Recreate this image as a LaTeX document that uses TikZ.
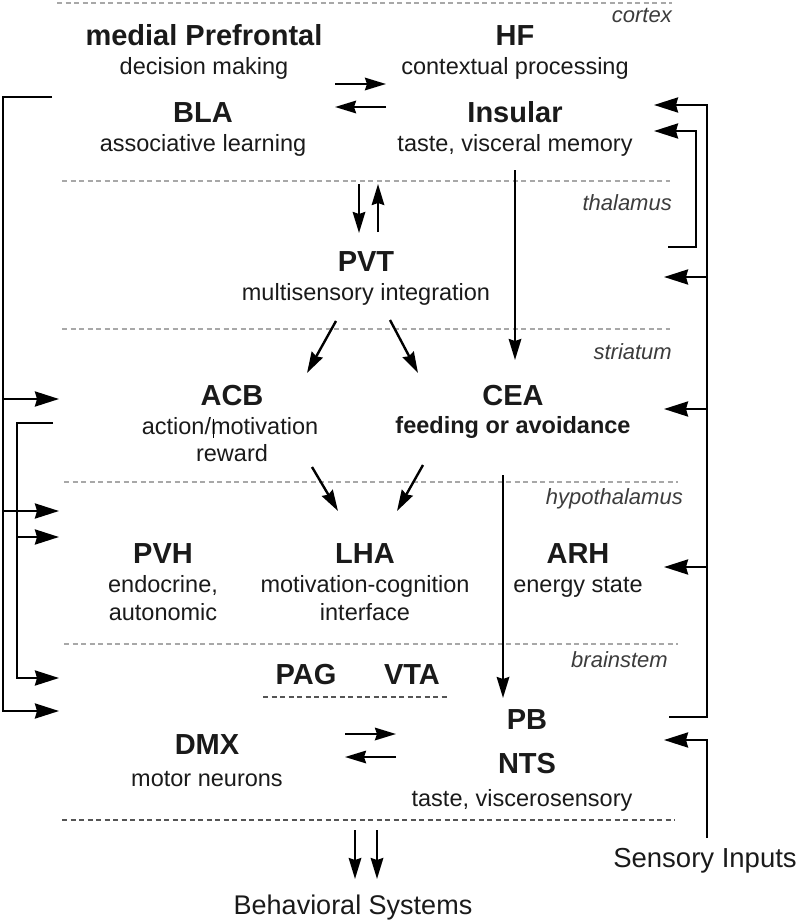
\documentclass[tikz,border=0pt]{standalone}
\usepackage{fontspec}
\setmainfont{Liberation Sans}
\usetikzlibrary{arrows.meta}
\definecolor{txt}{HTML}{1A1A1A}
\definecolor{lgray}{HTML}{A8A8A8}
\definecolor{dgray}{HTML}{555555}
\tikzset{
  ttl/.style={font=\fontsize{29}{34}\selectfont\bfseries, text=txt, anchor=base, inner sep=0pt},
  sub/.style={font=\fontsize{23.5}{28}\selectfont, text=txt, anchor=base, inner sep=0pt},
  subb/.style={font=\fontsize{23.5}{28}\selectfont\bfseries, text=txt, anchor=base, inner sep=0pt},
  layer/.style={font=\fontsize{22}{26}\selectfont\itshape, text=txt!85, anchor=base east, inner sep=0pt},
  bigtxt/.style={font=\fontsize{27}{32}\selectfont, text=txt, anchor=base, inner sep=0pt},
  sepline/.style={draw=lgray, line width=1.3pt, dash pattern=on 5pt off 3.5pt},
  sepdark/.style={draw=dgray, line width=1.3pt, dash pattern=on 5pt off 3.5pt},
  bline/.style={draw=black, line width=2.6pt, line join=miter},
  bigarr/.style={bline, -{Stealth[length=24pt,width=15pt,inset=2pt]}},
  arr/.style={draw=black, line width=2.4pt, -{Stealth[length=21pt,width=12.5pt,inset=2pt]}}
}
\begin{document}
\begin{tikzpicture}[x=1pt,y=-1pt]
\useasboundingbox (0,0) rectangle (800,923);

% separators
\draw[sepline] (57,3) -- (672,3);
\draw[sepline] (62,181) -- (670,181);
\draw[sepline] (62,329) -- (670,329);
\draw[sepline] (64,482) -- (678,482);
\draw[sepline] (64,644) -- (678,644);
\draw[sepdark] (263,697) -- (447,697);
\draw[sepdark] (62,820) -- (675,820);

% layer labels
\node[layer] (lcortex) at (672,23) {cortex};
\node[layer] (lthal) at (672,210) {thalamus};
\node[layer] (lstri) at (672,359) {striatum};
\node[layer] (lhypo) at (683,504) {hypothalamus};
\node[layer] (lbrain) at (668,667) {brainstem};

% region texts
\node[ttl] (mpfc) at (204,46) {medial Prefrontal};
\node[sub] (mpfcS) at (204,75) {decision making};
\node[ttl] (hf) at (515,46) {HF};
\node[sub] (hfS) at (515,75) {contextual processing};
\node[ttl] (bla) at (203,122) {BLA};
\node[sub] (blaS) at (203,151) {associative learning};
\node[ttl] (ins) at (515,122) {Insular};
\node[sub] (insS) at (515,151) {taste, visceral memory};
\node[ttl] (pvt) at (366,271) {PVT};
\node[sub] (pvtS) at (366,300) {multisensory integration};
\node[ttl] (acb) at (232,405) {ACB};
\node[sub] (acbS1) at (230,434) {action/motivation};
\node[sub] (acbS2) at (232,461) {reward};
\node[ttl] (cea) at (513,405) {CEA};
\node[subb] (ceaS) at (513,433) {feeding or avoidance};
\node[ttl] (pvh) at (163,563) {PVH};
\node[sub] (pvhS1) at (163,592) {endocrine,};
\node[sub] (pvhS2) at (163,620) {autonomic};
\node[ttl] (lha) at (365,563) {LHA};
\node[sub] (lhaS1) at (365,592) {motivation-cognition};
\node[sub] (lhaS2) at (365,620) {interface};
\node[ttl] (arh) at (578,563) {ARH};
\node[sub] (arhS) at (578,592) {energy state};
\node[ttl] (pag) at (306,684) {PAG};
\node[ttl] (vta) at (412,684) {VTA};
\node[ttl] (dmx) at (207,754) {DMX};
\node[sub] (dmxS) at (207,786) {motor neurons};
\node[ttl] (pb) at (527,729) {PB};
\node[ttl] (nts) at (527,773) {NTS};
\node[sub] (ntsS) at (522,806) {taste, viscerosensory};
\node[bigtxt] (beh) at (353,914) {Behavioral Systems};
\node[sub, font=\fontsize{27.5}{32}\selectfont] (sens) at (705,867) {Sensory Inputs};

% cursor mark in ACB text
\draw[black, line width=1pt] (213,419) -- (213,438);

% connector end points
\coordinate (a1s) at (335,84);  \coordinate (a1e) at (386,84);
\coordinate (a2s) at (386,107); \coordinate (a2e) at (335,107);
\coordinate (t1s) at (359,184); \coordinate (t1e) at (359,233);
\coordinate (t2s) at (378,232); \coordinate (t2e) at (378,184);
\coordinate (p1s) at (336,321); \coordinate (p1e) at (307,373);
\coordinate (p2s) at (390,320); \coordinate (p2e) at (418,373);
\coordinate (h1s) at (312,467); \coordinate (h1e) at (338,511);
\coordinate (h2s) at (423,465); \coordinate (h2e) at (397,511);
\coordinate (ic1) at (515,170); \coordinate (ic2) at (515,360);
\coordinate (cp1) at (503,475); \coordinate (cp2) at (503,698);
\coordinate (d1s) at (345,734); \coordinate (d1e) at (396,734);
\coordinate (d2s) at (396,757); \coordinate (d2e) at (345,757);
\coordinate (b1s) at (355,830); \coordinate (b1e) at (355,879);
\coordinate (b2s) at (377,830); \coordinate (b2e) at (377,879);

\draw[arr] (a1s) -- (a1e);
\draw[arr] (a2s) -- (a2e);
\draw[arr] (t1s) -- (t1e);
\draw[arr] (t2s) -- (t2e);
\draw[arr] (p1s) -- (p1e);
\draw[arr] (p2s) -- (p2e);
\draw[arr] (h1s) -- (h1e);
\draw[arr] (h2s) -- (h2e);
\draw[arr] (ic1) -- (ic2);
\draw[arr] (cp1) -- (cp2);
\draw[arr] (d1s) -- (d1e);
\draw[arr] (d2s) -- (d2e);
\draw[arr] (b1s) -- (b1e);
\draw[arr] (b2s) -- (b2e);

% left brackets
\coordinate (Lo1) at (52,97);   \coordinate (Lo2) at (3,97);
\coordinate (Lo3) at (3,711);   \coordinate (Lo4) at (59,711);
\coordinate (Lb1) at (3,399);   \coordinate (Lt1) at (59,399);
\coordinate (Lb2) at (3,511);   \coordinate (Lt2) at (59,511);
\coordinate (Li1) at (53,423);  \coordinate (Li2) at (17,423);
\coordinate (Li3) at (17,678);  \coordinate (Li4) at (59,678);
\coordinate (Lb3) at (17,537);  \coordinate (Lt3) at (59,537);
\draw[bigarr] (Lo1) -- (Lo2) -- (Lo3) -- (Lo4);
\draw[bigarr] (Lb1) -- (Lt1);
\draw[bigarr] (Lb2) -- (Lt2);
\draw[bigarr] (Li1) -- (Li2) -- (Li3) -- (Li4);
\draw[bigarr] (Lb3) -- (Lt3);

% right brackets
\coordinate (Ro1) at (669,717); \coordinate (Ro2) at (707,717);
\coordinate (Ro3) at (707,105); \coordinate (Ro4) at (654,105);
\coordinate (Rb1) at (707,277); \coordinate (Rt1) at (664,277);
\coordinate (Rb2) at (707,409); \coordinate (Rt2) at (664,409);
\coordinate (Rb3) at (707,567); \coordinate (Rt3) at (664,567);
\coordinate (Ri1) at (668,247); \coordinate (Ri2) at (696,247);
\coordinate (Ri3) at (696,131); \coordinate (Ri4) at (654,131);
\coordinate (Rs1) at (707,838); \coordinate (Rs2) at (707,740);
\coordinate (Rs3) at (664,740);
\draw[bigarr] (Ro1) -- (Ro2) -- (Ro3) -- (Ro4);
\draw[bigarr] (Rb1) -- (Rt1);
\draw[bigarr] (Rb2) -- (Rt2);
\draw[bigarr] (Rb3) -- (Rt3);
\draw[bigarr] (Ri1) -- (Ri2) -- (Ri3) -- (Ri4);
\draw[bigarr] (Rs1) -- (Rs2) -- (Rs3);
\end{tikzpicture}
\end{document}
